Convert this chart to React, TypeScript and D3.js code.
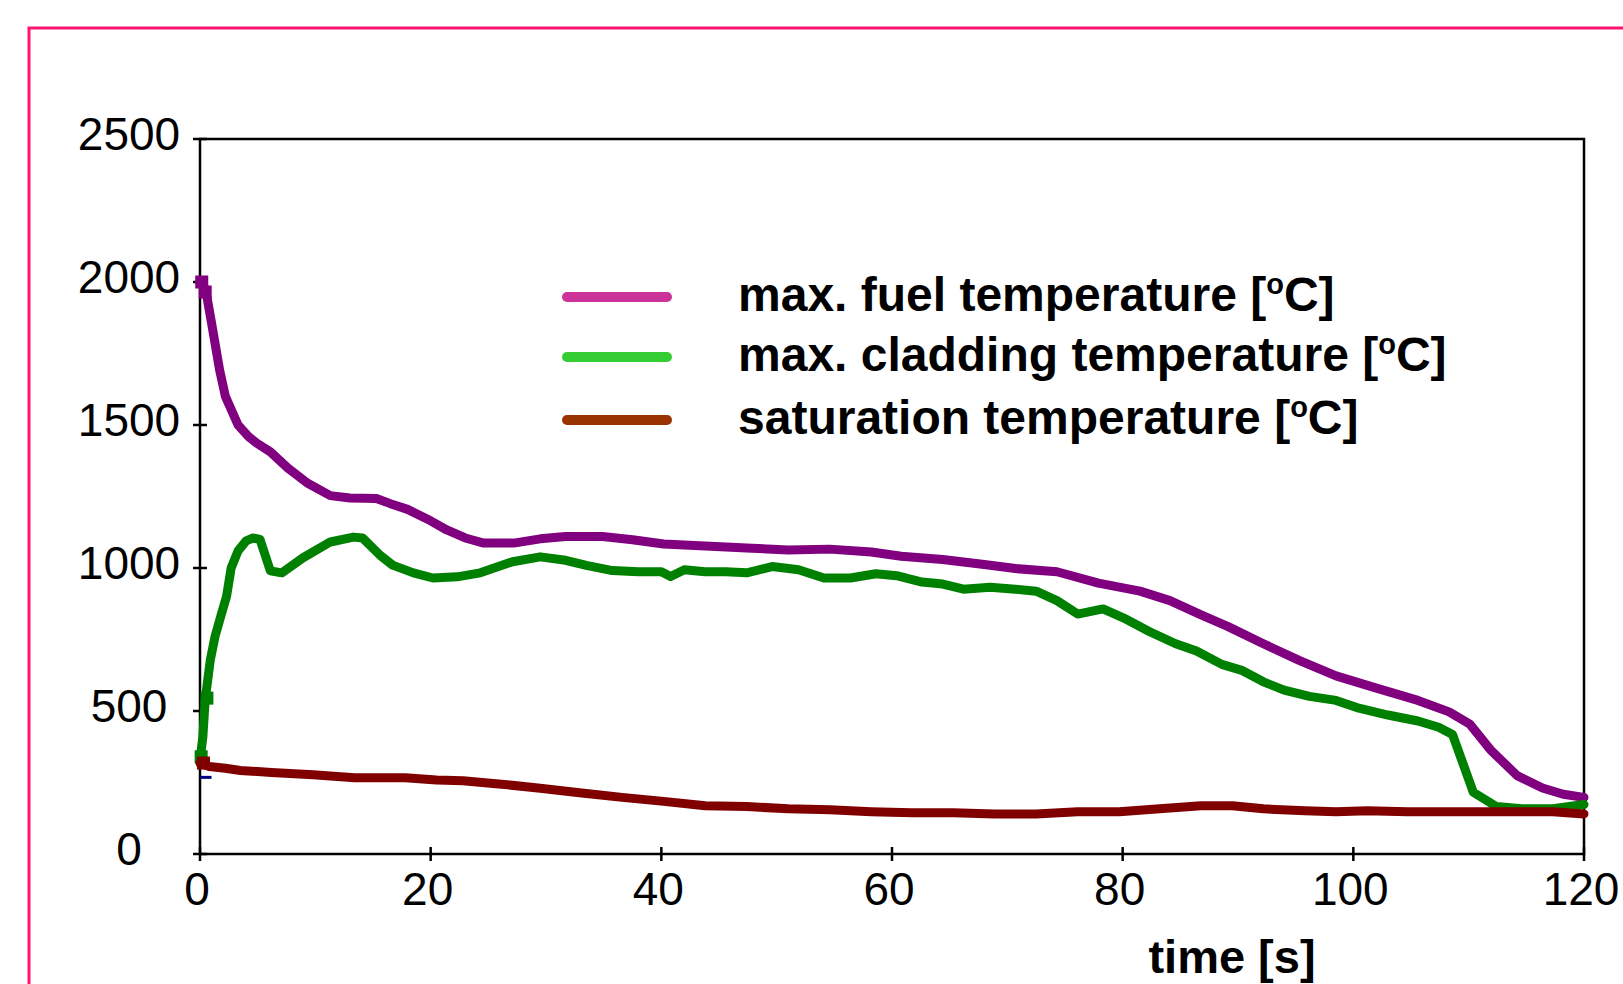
import * as d3 from "d3";

// Courbes (temps en s, température en °C)
const fuelTime = [0, 0.3, 0.6, 1.0, 1.7, 2.2, 3.3, 4.2, 4.9, 6.1, 7.6, 9.3, 11.3, 13, 15.3, 16.5, 18, 20, 21.4, 23, 24.6, 27.2, 29.5, 31.7, 34.9, 37.5, 40.2, 43.8, 47.4, 51, 54.6, 58.2, 60.8, 64.4, 68, 70.7, 74.3, 77.9, 81.5, 84.1, 86.8, 89.1, 92.2, 95.3, 98.5, 102, 105.6, 108.3, 110.1, 111.9, 114.2, 116.4, 118.2, 120];
const fuelTemp = [2000, 1990, 1948, 1857, 1692, 1600, 1500, 1460, 1437, 1406, 1350, 1297, 1253, 1245, 1243, 1225, 1205, 1165, 1133, 1105, 1087, 1087, 1102, 1110, 1110, 1099, 1084, 1077, 1070, 1063, 1066, 1056, 1041, 1030, 1012, 998, 987, 947, 919, 886, 836, 796, 735, 677, 623, 580, 537, 497, 454, 364, 274, 231, 209, 198];

const claddingTime = [0, 0.25, 0.45, 0.9, 1.3, 1.9, 2.3, 2.7, 3.3, 4.0, 4.6, 5.2, 6.1, 7.1, 8.9, 11.3, 13.3, 14.1, 15.6, 16.7, 18.5, 20.2, 22.3, 24.3, 27.1, 29.5, 31.7, 33.5, 35.75, 38, 40, 40.8, 42, 43.8, 45.6, 47.4, 49.6, 51.9, 54.1, 56.4, 58.6, 60.4, 62.6, 64.4, 66.2, 68.5, 70.7, 72.5, 74.3, 76.1, 78.3, 80.1, 82.3, 84.6, 86.4, 88.6, 90.4, 92.2, 94, 96.2, 98.5, 100.3, 103, 105.6, 107.4, 108.6, 110.4, 112.4, 114.6, 117.3, 120];
const claddingTemp = [330, 410, 540, 680, 760, 845, 900, 1000, 1060, 1095, 1105, 1100, 990, 983, 1035, 1091, 1108, 1105, 1045, 1010, 983, 965, 969, 983, 1022, 1039, 1027, 1009, 991, 987, 987, 970, 994, 987, 987, 983, 1005, 994, 965, 965, 980, 973, 951, 944, 926, 933, 926, 919, 886, 839, 857, 825, 778, 735, 710, 663, 641, 602, 573, 551, 537, 512, 486, 465, 443, 418, 216, 166, 158, 158, 173];

const satTime = [0, 0.8, 2.2, 3.5, 6.2, 9.8, 13.4, 17.8, 20.5, 22.8, 25.9, 29.5, 33.1, 36.6, 40.2, 43.8, 47.4, 51, 54.6, 58.2, 61.7, 65.3, 68.9, 72.5, 76.1, 79.7, 83.2, 86.8, 89.5, 92.2, 95.8, 98.5, 101.2, 104.7, 108.3, 112.8, 117.3, 120];
const satTemp = [318, 306, 300, 292, 285, 277, 267, 267, 259, 256, 245, 230, 213, 198, 184, 169, 166, 158, 155, 148, 144, 144, 140, 140, 148, 148, 158, 169, 169, 158, 151, 148, 151, 148, 148, 148, 148, 140];

// marqueurs carrés visibles au tout début des courbes
const fuelMarkTime = [0.15, 0.45];
const fuelMarkTemp = [2000, 1965];
const claddingMarkTime = [0.1, 0.6];
const claddingMarkTemp = [340, 545];
const satMarkTime = [0.3];
const satMarkTemp = [318];

// petit trait bleu visible au départ
const blueTime = [0, 1.0];
const blueTemp = [268, 268];

const xTicks = [0, 20, 40, 60, 80, 100, 120];
const yTicks = [0, 500, 1000, 1500, 2000, 2500];

const legendLabels = ["max. fuel temperature [", "max. cladding temperature [", "saturation temperature ["];
const legendColors = ["#cc3399", "#33cc33", "#993300"];
const lineColors = ["#800080", "#008000", "#800000"];

const FONT = "'Liberation Sans', Arial, Helvetica, sans-serif";

export default function App() {
  const width = 1623;
  const height = 984;
  const margin = { left: 200, top: 139, right: 1584, bottom: 854 };

  const x = d3.scaleLinear().domain([0, 120]).range([margin.left, margin.right]);
  const y = d3.scaleLinear().domain([0, 2500]).range([margin.bottom, margin.top]);

  const line = d3
    .line<[number, number]>()
    .x((d) => x(d[0]))
    .y((d) => y(d[1]));

  const zip = (t: number[], v: number[]) => t.map((tt, i) => [tt, v[i]] as [number, number]);

  const series = [
    zip(fuelTime, fuelTemp),
    zip(claddingTime, claddingTemp),
    zip(satTime, satTemp),
  ];
  const marks = [
    zip(fuelMarkTime, fuelMarkTemp),
    zip(claddingMarkTime, claddingMarkTemp),
    zip(satMarkTime, satMarkTemp),
  ];
  const mk = 13;

  return (
    <div style={{ position: "absolute", left: 0, top: 0, width, height, overflow: "hidden", background: "#fff" }}>
      <svg width={width} height={height} style={{ display: "block" }} fontFamily={FONT}>
        {/* cadre rose */}
        <rect x={29} y={28} width={1700} height={1100} fill="none" stroke="#ff1472" strokeWidth={3} />

        {/* cadre du graphique */}
        <rect
          x={margin.left}
          y={margin.top}
          width={margin.right - margin.left}
          height={margin.bottom - margin.top}
          fill="none"
          stroke="#000"
          strokeWidth={2.5}
        />

        {/* axe Y */}
        {yTicks.map((t) => (
          <g key={"y" + t}>
            <line x1={margin.left - 7} x2={margin.left + 7} y1={y(t)} y2={y(t)} stroke="#000" strokeWidth={2.5} />
            <text x={129} y={y(t) + 11} textAnchor="middle" fontSize={46} fill="#000">
              {t}
            </text>
          </g>
        ))}

        {/* axe X */}
        {xTicks.map((t) => (
          <g key={"x" + t}>
            <line x1={x(t)} x2={x(t)} y1={margin.bottom - 7} y2={margin.bottom + 7} stroke="#000" strokeWidth={2.5} />
            <text x={x(t) - 3} y={margin.bottom + 51} textAnchor="middle" fontSize={46} fill="#000">
              {t}
            </text>
          </g>
        ))}

        <text x={1232} y={973} textAnchor="middle" fontSize={47} fontWeight="bold" fill="#000">
          time [s]
        </text>

        {/* courbes */}
        <path d={line(zip(blueTime, blueTemp)) || ""} fill="none" stroke="#000080" strokeWidth={3} />
        {series.map((s, i) => (
          <g key={"s" + i}>
            <path
              d={line(s) || ""}
              fill="none"
              stroke={lineColors[i]}
              strokeWidth={9}
              strokeLinejoin="round"
              strokeLinecap="round"
            />
            {marks[i].map((p, j) => (
              <rect
                key={j}
                x={x(p[0]) - mk / 2}
                y={y(p[1]) - mk / 2}
                width={mk}
                height={mk}
                fill={lineColors[i]}
              />
            ))}
          </g>
        ))}

        {/* légende */}
        {legendLabels.map((lab, i) => {
          const ly = [297, 357, 420][i];
          return (
            <g key={"l" + i}>
              <line x1={567} x2={667} y1={ly} y2={ly} stroke={legendColors[i]} strokeWidth={10} strokeLinecap="round" />
              <text x={738} y={ly + 14} fontSize={48} fontWeight="bold" fill="#000">
                {lab}
                <tspan fontSize={29} dy={-17}>o</tspan>
                <tspan dy={17}>C]</tspan>
              </text>
            </g>
          );
        })}
      </svg>
    </div>
  );
}
